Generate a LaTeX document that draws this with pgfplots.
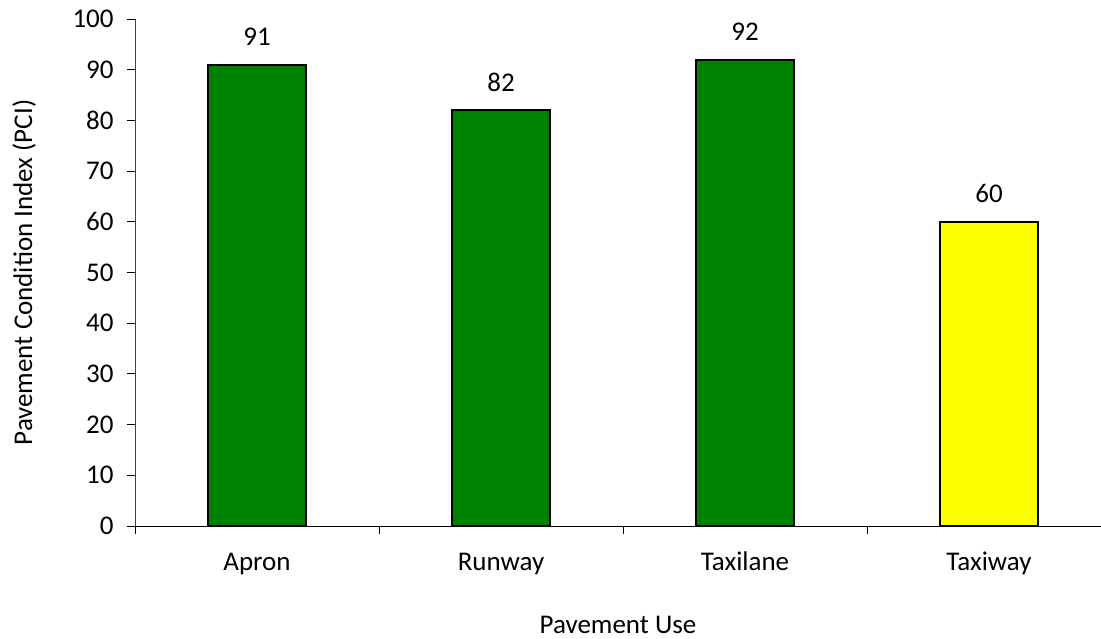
\documentclass[border=0pt]{standalone}
\usepackage{fontspec}
\setmainfont{Carlito}
\usepackage{pgfplots}
\pgfplotsset{compat=1.18}
\definecolor{bargreen}{RGB}{0,128,0}
\definecolor{baryellow}{RGB}{255,255,0}
\definecolor{axisgray}{RGB}{64,64,64}
\begin{document}
\fontsize{13.5}{16}\selectfont
\begin{tikzpicture}
\path[use as bounding box] (0,0) rectangle (550.5pt,319pt);
\begin{axis}[
  at={(67.5pt,56pt)}, anchor=south west,
  scale only axis,
  width=483pt, height=253.5pt,
  xmin=-0.5, xmax=3.459,
  ymin=0, ymax=100,
  ytick={0,10,...,100},
  xtick={-0.5,0.5,1.5,2.5},
  xticklabels={},
  extra x ticks={0,1,2,3},
  extra x tick labels={Apron,Runway,Taxilane,Taxiway},
  extra x tick style={major tick length=0pt},
  tick align=outside,
  major tick length=4pt,
  tick style={line width=0.5pt, black},
  axis x line*=bottom, axis y line*=left,
  axis line style={line width=0.5pt, -},
  y axis line style={draw=axisgray},
  ybar, bar width=49pt,
  xlabel={Pavement Use},
  ylabel={Pavement Condition Index (PCI)},
  xlabel style={at={(axis description cs:0.5,0)}, anchor=base, inner sep=0pt, yshift=-53.5pt},
  ylabel style={at={(axis description cs:0,0.5)}, anchor=center, yshift=55.5pt},
  yticklabel style={xshift=-2pt},
  xticklabel style={yshift=-7pt, text height=1.6ex, text depth=0.4ex},
  /pgf/number format/assume math mode=true,
  nodes near coords,
  nodes near coords style={font=\fontsize{13.5}{16}\selectfont, yshift=4.5pt},
  clip=false,
]
\addplot[fill=bargreen, draw=black, line width=1pt, bar shift=0pt] coordinates {(0,91) (1,82) (2,92)};
\addplot[fill=baryellow, draw=black, line width=1pt, bar shift=0pt] coordinates {(3,60)};
\end{axis}
\end{tikzpicture}
\end{document}
